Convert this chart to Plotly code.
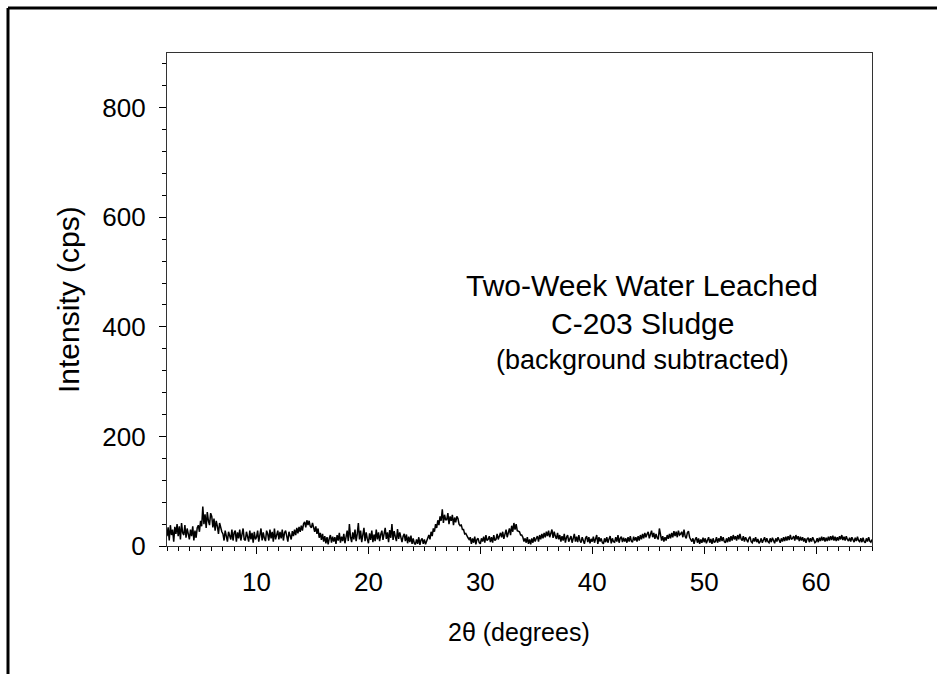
import plotly.graph_objects as go

# Scan grid: 2.0 to 65.0 degrees 2-theta, step 0.1
two_theta_start = 2.0
two_theta_step = 0.1

# Intensity (cps), one row per degree (10 readings each)
intensity_rows = [
    [18, 34, 10, 38, 20, 30, 8, 35, 22, 40],    # 2
    [18, 36, 12, 42, 24, 20, 38, 15, 32, 22],   # 3
    [12, 30, 18, 36, 10, 28, 15, 33, 38, 26],   # 4
    [46, 36, 72, 40, 58, 33, 62, 46, 38, 60],   # 5
    [54, 34, 50, 28, 46, 36, 22, 42, 30, 26],   # 6
    [22, 10, 28, 15, 8, 26, 18, 12, 30, 10],    # 7
    [24, 28, 8, 25, 14, 30, 10, 22, 32, 12],    # 8
    [10, 26, 14, 8, 28, 12, 24, 6, 26, 12],     # 9
    [16, 28, 8, 22, 32, 10, 25, 14, 9, 28],     # 10
    [22, 10, 30, 14, 26, 8, 32, 12, 22, 28],    # 11
    [12, 26, 14, 30, 10, 24, 28, 13, 8, 26],    # 12
    [16, 12, 27, 18, 30, 20, 33, 23, 35, 26],   # 13
    [37, 28, 40, 44, 34, 47, 38, 46, 36, 33],   # 14
    [42, 30, 26, 36, 22, 32, 15, 24, 11, 22],   # 15
    [8, 18, 5, 16, 3, 14, 20, 6, 17, 8],        # 16
    [16, 4, 20, 10, 24, 6, 17, 9, 22, 5],       # 17
    [18, 28, 9, 40, 16, 7, 25, 12, 30, 9],      # 18
    [22, 42, 12, 28, 7, 20, 33, 9, 25, 13],     # 19
    [5, 23, 11, 28, 7, 21, 9, 30, 12, 25],      # 20
    [9, 21, 28, 11, 23, 33, 13, 25, 7, 29],     # 21
    [15, 40, 11, 27, 17, 9, 31, 13, 25, 15],    # 22
    [7, 18, 22, 9, 21, 5, 17, 7, 19, 4],        # 23
    [14, 5, 3, 12, 4, 16, 2, 11, 14, 4],        # 24
    [12, 3, 10, 14, 20, 12, 26, 18, 32, 26],    # 25
    [40, 33, 47, 38, 54, 46, 67, 42, 57, 48],   # 26
    [48, 60, 40, 54, 46, 57, 38, 52, 43, 54],   # 27
    [50, 40, 37, 38, 30, 30, 22, 23, 17, 15],   # 28
    [12, 16, 4, 14, 6, 17, 3, 12, 14, 6],       # 29
    [4, 14, 8, 17, 6, 20, 10, 12, 18, 7],       # 30
    [16, 6, 20, 10, 12, 22, 12, 18, 24, 16],    # 31
    [26, 13, 22, 30, 16, 27, 32, 20, 37, 26],   # 32
    [42, 30, 40, 28, 27, 26, 20, 20, 16, 8],    # 33
    [14, 6, 16, 4, 12, 3, 14, 6, 16, 8],        # 34
    [14, 18, 8, 20, 12, 22, 14, 24, 16, 26],    # 35
    [18, 28, 16, 24, 30, 15, 26, 18, 13, 24],   # 36
    [12, 20, 8, 18, 10, 22, 6, 16, 20, 8],      # 37
    [14, 18, 6, 16, 22, 8, 17, 7, 20, 10],      # 38
    [6, 16, 8, 4, 14, 18, 7, 16, 5, 13],        # 39
    [8, 17, 6, 14, 20, 4, 16, 8, 14, 6],        # 40
    [4, 14, 7, 16, 6, 13, 18, 5, 14, 8],        # 41
    [7, 16, 8, 20, 6, 14, 17, 7, 15, 8],        # 42
    [14, 6, 16, 8, 18, 9, 7, 17, 10, 16],       # 43
    [8, 18, 10, 20, 12, 22, 14, 24, 16, 22],    # 44
    [26, 14, 22, 28, 16, 24, 13, 22, 15, 12],   # 45
    [32, 16, 10, 18, 8, 16, 10, 20, 13, 22],    # 46
    [14, 24, 16, 27, 18, 26, 16, 28, 20, 22],   # 47
    [26, 16, 30, 18, 14, 24, 27, 16, 12, 8],    # 48
    [14, 4, 12, 16, 6, 14, 4, 12, 6, 15],       # 49
    [7, 14, 5, 12, 16, 6, 13, 4, 14, 7],        # 50
    [8, 16, 6, 14, 8, 18, 9, 16, 8, 6],         # 51
    [14, 7, 16, 8, 18, 10, 20, 12, 18, 10],     # 52
    [20, 12, 22, 13, 10, 18, 8, 16, 10, 7],     # 53
    [14, 17, 8, 6, 14, 8, 16, 7, 13, 5],        # 54
    [8, 14, 6, 13, 16, 7, 14, 8, 6, 14],        # 55
    [7, 15, 8, 5, 14, 8, 16, 9, 6, 14],         # 56
    [8, 16, 9, 17, 10, 18, 11, 20, 12, 14],     # 57
    [18, 10, 20, 12, 18, 9, 17, 10, 16, 8],     # 58
    [14, 6, 13, 15, 7, 14, 8, 16, 9, 6],        # 59
    [8, 14, 7, 15, 9, 17, 10, 16, 8, 15],       # 60
    [9, 17, 10, 18, 11, 19, 10, 17, 9, 16],     # 61
    [10, 18, 12, 20, 11, 17, 10, 18, 12, 9],    # 62
    [15, 8, 16, 10, 7, 15, 9, 17, 10, 8],       # 63
    [14, 7, 15, 8, 6, 14, 8, 16, 9, 7],         # 64
    [12],                                       # 65.0
]

intensity = [v for row in intensity_rows for v in row]
two_theta = [round(two_theta_start + i * two_theta_step, 2) for i in range(len(intensity))]

y_tickvals = [0, 200, 400, 600, 800]
x_tickvals = [10, 20, 30, 40, 50, 60]

annotation_lines = ["Two-Week Water Leached", "C-203 Sludge", "(background subtracted)"]

FONT = "Liberation Sans, Arial, sans-serif"

fig = go.Figure()
fig.add_trace(go.Scatter(
    x=two_theta, y=intensity, mode="lines",
    line=dict(color="black", width=1.5),
    showlegend=False, hoverinfo="skip",
))

axis_color = "#333333"
fig.update_layout(
    width=937, height=674,
    margin=dict(l=167, r=65, t=53, b=128, autoexpand=False),
    paper_bgcolor="white", plot_bgcolor="white",
    font=dict(family=FONT, color="black"),
    xaxis=dict(
        range=[2, 65], tickvals=x_tickvals, ticks="outside", ticklen=7,
        tickwidth=1.3, tickcolor="black",
        showline=True, linecolor=axis_color, linewidth=1.3, mirror=True,
        showgrid=False, zeroline=False,
        tickfont=dict(size=26, family=FONT, color="black"),
        ticklabelstandoff=6,
        minor=dict(dtick=1, tick0=0, ticks="outside", ticklen=4,
                   tickcolor="black", tickwidth=1.2, showgrid=False),
    ),
    yaxis=dict(
        range=[0, 900], tickvals=y_tickvals, ticks="outside", ticklen=7,
        tickwidth=1.3, tickcolor="black",
        showline=True, linecolor=axis_color, linewidth=1.3, mirror=True,
        showgrid=False, zeroline=False,
        tickfont=dict(size=26, family=FONT, color="black"),
        ticklabelstandoff=8,
        minor=dict(dtick=40, tick0=0, ticks="outside", ticklen=4,
                   tickcolor="black", tickwidth=1.2, showgrid=False),
    ),
)

# outer frame: top and left edges (the rest lies outside the image)
frame_left = (8 - 167) / 705
frame_top = (546 - 8) / 493
fig.add_shape(type="line", xref="paper", yref="paper",
              x0=frame_left, x1=(1000 - 167) / 705, y0=frame_top, y1=frame_top,
              line=dict(color="black", width=3))
fig.add_shape(type="line", xref="paper", yref="paper",
              x0=frame_left, x1=frame_left, y0=frame_top, y1=(546 - 720) / 493,
              line=dict(color="black", width=3))

# axis titles
fig.add_annotation(text="Intensity (cps)", xref="paper", yref="paper",
                   x=(68 - 167) / 705, y=(546 - 300) / 493,
                   textangle=-90, showarrow=False, xanchor="center", yanchor="middle",
                   font=dict(size=30, family=FONT, color="black"))
fig.add_annotation(text="2θ (degrees)", xref="paper", yref="paper",
                   x=(519 - 167) / 705, y=(546 - 632) / 493,
                   showarrow=False, xanchor="center", yanchor="middle",
                   font=dict(size=25, family=FONT, color="black"))

# in-plot label
label_y_px = [285, 323, 360]
label_sizes = [30, 30, 27]
for txt, ypx, sz in zip(annotation_lines, label_y_px, label_sizes):
    fig.add_annotation(text=txt, xref="paper", yref="paper",
                       x=(642 - 167) / 705, y=(546 - ypx) / 493,
                       showarrow=False, xanchor="center", yanchor="middle",
                       font=dict(size=sz, family=FONT, color="black"))

fig.write_html(
    "out.html",
    config={"displayModeBar": False},
    post_script="document.body.style.margin='0';document.body.style.overflow='hidden';",
)
